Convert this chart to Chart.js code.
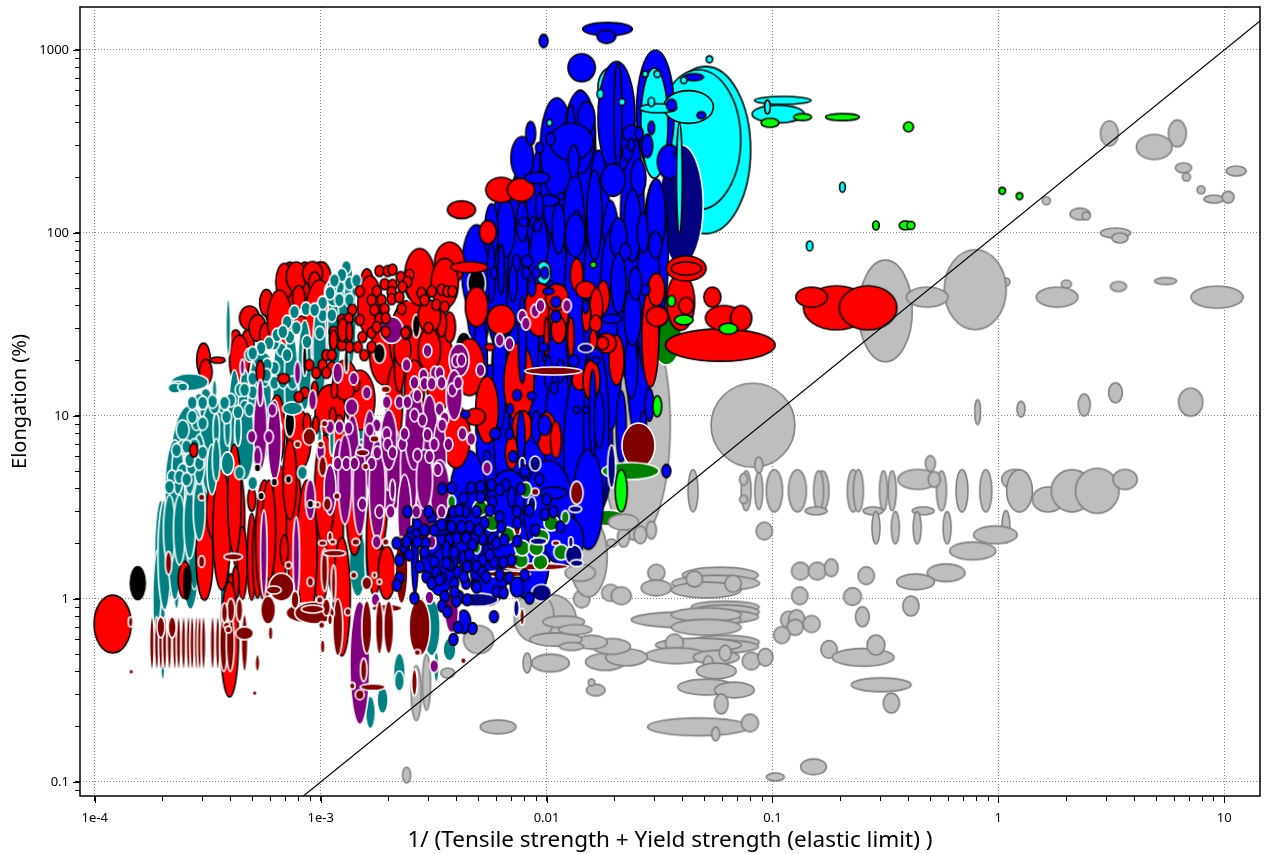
<!DOCTYPE html>
<html>
<head>
<meta charset="utf-8">
<title>Elongation chart</title>
<script src="https://cdn.jsdelivr.net/npm/chart.js@4"></script>
<style>
html, body { margin: 0; padding: 0; background: #fff; }
canvas { display: block; }
</style>
</head>
<body>
<canvas id="chart" width="1265" height="854"></canvas>
<script>
// every mark: [x, y, x spread, y spread], spread = high value / low value of the range
const xTickLabels = ['1e-4', '1e-3', '0.01', '0.1', '1', '10'];
const yTickLabels = ['0.1', '1', '10', '100', '1000'];
const limitLine = [[0.00083, 0.083], [15, 1500]];

const grayMarks = [
[3.1,350,1.2,1.37],[6.2,350,1.2,1.4],[4.9,295,1.44,1.37],[6.6,227,1.18,1.134],[6.8,202,1.085,1.106],[11.3,218,1.226,1.134],[7.9,172,1.085,1.106],[9,153,1.226,1.106],[10.4,157,1.13,1.16],[1.63,150,1.085,1.106],[2.3,127,1.226,1.16],[2.45,124,1.085,1.106],[3.3,100,1.36,1.134],[3.45,94,1.18,1.134],[5.5,54.6,1.25,1.09],[3.4,51,1.18,1.134],[2,52.5,1.107,1.106],[1.82,44.6,1.53,1.286],[9.3,44.6,1.7,1.32],[1.08,54,1.085,1.106],[0.79,49,1.88,2.74],[0.316,37.5,1.73,3.6],[0.484,44.6,1.53,1.286],[0.082,8.9,2.35,2.88],[0.0247,8.9,2.04,18],
[0.81,10.5,1.06,1.37],[1.26,10.9,1.085,1.22],[2.4,11.5,1.13,1.32],[3.3,13.4,1.15,1.286],[7.1,11.9,1.28,1.42],
[0.0445,3.9,1.107,1.7],[0.0765,3.9,1.107,1.65],[0.087,3.9,1.085,1.6],[0.102,3.9,1.18,1.7],[0.129,3.9,1.2,1.7],[0.166,3.9,1.15,1.65],[0.16,3.9,1.107,1.65],[0.228,3.9,1.13,1.7],[0.24,3.9,1.107,1.7],[0.31,3.9,1.085,1.65],[0.339,3.9,1.085,1.65],[0.56,3.9,1.107,1.65],[0.69,3.9,1.13,1.7],[0.88,3.9,1.13,1.7],
[0.44,4.5,1.5,1.286],[1.18,4.5,1.3,1.286],[1.24,3.9,1.3,1.7],[1.66,3.5,1.38,1.37],[2.12,3.9,1.53,1.7],[2.74,3.9,1.56,1.76],[3.64,4.5,1.28,1.286],[0.5,5.5,1.107,1.22],[0.52,4.5,1.13,1.22],[0.087,5.4,1.085,1.22],[0.0745,4.5,1.085,1.16],[0.0745,3.5,1.085,1.106],
[0.092,2.35,1.18,1.25],[0.156,3.03,1.25,1.106],[0.279,3.03,1.226,1.106],[0.465,3.03,1.25,1.106],[0.287,2.45,1.085,1.5],[0.35,2.45,1.085,1.5],[0.437,2.45,1.085,1.5],[0.593,2.45,1.085,1.5],[1.08,2.48,1.085,1.5],[0.97,2.24,1.56,1.25],[0.77,1.83,1.6,1.25],[0.587,1.39,1.47,1.25],[0.43,1.24,1.47,1.22],[0.26,1.34,1.18,1.25],[0.133,1.42,1.2,1.25],[0.158,1.42,1.2,1.25],[0.182,1.48,1.15,1.25],[0.226,1.03,1.2,1.25],[0.41,0.915,1.18,1.286],[0.25,0.8,1.15,1.286],
[0.0306,1.39,1.19,1.24],[0.0306,1.15,1.36,1.22],[0.0192,1.08,1.2,1.24],[0.0214,1.04,1.226,1.25],[0.0587,1.35,2.17,1.22],[0.056,1.22,2.45,1.22],[0.0509,1.12,2.04,1.22],[0.0451,1.286,1.18,1.22],[0.0669,1.21,1.18,1.24],[0.0143,1,1.18,1.25],
[0.0618,0.904,2,1.16],[0.0618,0.85,2,1.19],[0.056,0.8,2.4,1.19],[0.0415,0.77,3.06,1.22],[0.0509,0.82,2.04,1.19],[0.0509,0.7,2.04,1.22],[0.0618,0.58,2,1.19],[0.056,0.55,2.4,1.19],[0.047,0.56,2.4,1.19],[0.0368,0.575,1.2,1.25],[0.0375,0.49,1.88,1.22],[0.0564,0.48,1.6,1.19],[0.0618,0.507,1.13,1.22],[0.052,0.44,1.107,1.24],[0.0564,0.404,1.5,1.22],[0.0805,0.458,1.2,1.25],[0.093,0.48,1.165,1.25],[0.0509,0.33,1.79,1.22],[0.0678,0.318,1.5,1.22],[0.0593,0.267,1.15,1.286],[0.047,0.2,2.82,1.25],[0.0795,0.21,1.19,1.25],[0.056,0.183,1.085,1.19],[0.0061,0.2,1.44,1.19],
[0.118,0.77,1.18,1.24],[0.128,0.77,1.18,1.286],[0.126,0.7,1.18,1.22],[0.11,0.635,1.18,1.24],[0.149,0.73,1.19,1.24],[0.132,1.04,1.18,1.25],[0.178,0.53,1.18,1.25],[0.252,0.48,1.88,1.25],[0.287,0.56,1.2,1.286],[0.303,0.34,1.84,1.19],[0.336,0.27,1.18,1.286],[0.103,0.1065,1.2,1.106],[0.152,0.121,1.3,1.22],[0.0024,0.109,1.085,1.22],
[0.0105,0.77,1.66,1.88],[0.0088,0.8,1.5,1.88],[0.0104,0.447,1.47,1.25],[0.0082,0.447,1.085,1.286],[0.0182,0.453,1.5,1.24],[0.0226,0.48,1.53,1.24],[0.0194,0.55,1.47,1.22],[0.0158,0.58,1.38,1.19],[0.011,0.6,1.7,1.18],[0.0129,0.55,1.28,1.106],[0.0119,0.75,1.53,1.16],[0.0134,0.68,1.4,1.134],[0.0165,0.318,1.21,1.16],[0.0158,0.35,1.07,1.09],[0.005,0.6,1.36,1.42],[0.00365,0.394,1.15,1.134],[0.00265,0.306,1.107,2],[0.00294,0.35,1.085,2.02],
[0.026,2.24,1.14,1.25],[0.0219,2.18,1.13,1.286],[0.0291,2.38,1.107,1.25],[0.0194,2.02,1.107,1.106],[0.0153,1.7,1.47,2.74],[0.0141,1.39,1.36,1.24]
];
const greenBack = [[0.0339,27.7,1.36,2.13],[0.0188,2.77,1.43,1.22]];
const grayTop = [[0.0219,2.63,1.36,1.22]];
const cyanBack = [[0.0506,284,2.5,8.2],[0.047,323,2.37,5.82],[0.0194,630,1.32,1.62]];
const blueHigh = [[0.0303,460,1.47,4.7]];
const cyanMid = [[0.03,399,1.32,4],[0.0425,488,1.66,1.51],[0.0312,480,1.46,1.12]];
const navyBack = [[0.0395,142,1.56,4.53]];
const redBack = [
[0.000303,20.2,1.15,1.53],[0.00031,17.4,1.14,1.37],[0.00042,25.4,1.13,1.35],[0.000475,25,1.14,1.4],[0.000484,34.3,1.226,1.35],[0.000525,30.3,1.19,1.4],[0.00057,27.7,1.13,1.35],[0.00061,38,1.165,1.42],[0.000575,41.5,1.15,1.4],[0.00073,52,1.18,1.78],[0.00085,52,1.18,1.78],[0.00099,52,1.18,1.78],[0.00069,54,1.19,1.59],[0.00078,57.5,1.226,1.46],[0.00101,56.5,1.21,1.51],[0.00092,60,1.226,1.35],[0.0008,44.6,1.14,1.34],[0.00094,53,1.13,1.34],[0.0016,55,1.13,1.34],[0.00035,20.2,1.165,1.08],
[0.00082,32,1.15,1.21],[0.000657,33.5,1.28,2.13],[0.00099,33.5,1.36,2.74],[0.00165,40,1.28,2.13],[0.000437,20.2,1.226,1.88],[0.00192,21.5,1.36,2.13],[0.00247,26,1.5,2.74],[0.00336,17.8,1.36,2.74],
[0.00012,0.73,1.46,2.07]
];
const tealBack = [
[0.000196,1.7,1.14,4.14],[0.00019,0.99,1.107,3.52],[0.00021,1.92,1.19,3.84],[0.000265,1.57,1.19,3.2],[0.0002,0.6,1.07,2.74],[0.00022,3.5,1.15,2.13],[0.00023,1,1.05,1.286],[0.000306,3.5,1.107,1.51],[0.0004,3.05,1.107,2.32],[0.00074,2.95,1.107,1.88],[0.000383,1.03,1.14,2.13],
[0.000204,1.74,1.15,4],[0.000226,2.7,1.18,7.48],[0.00025,3.25,1.18,6.6],[0.000276,3.5,1.2,9.63],[0.000306,5.1,1.18,5.82],[0.000339,6.2,1.15,4],[0.000375,6.2,1.15,4],[0.000415,7.9,1.15,5.13],[0.00046,9,1.15,4],[0.00051,10.8,1.15,3.52],[0.000564,13,1.15,3.1],[0.000657,14.8,1.15,3.1],[0.00074,15.7,1.15,3.52],[0.00085,19,1.15,3.1],[0.00099,23,1.15,3.52],[0.00115,30.6,1.15,3.75],[0.00134,35,1.15,3.75],[0.00128,43,1.15,2.41],[0.00156,9,1.13,3.1],
[0.000263,5.05,1.5,5.13],[0.000226,3.95,1.226,3.52],[0.000339,6.5,1.36,3.52],[0.00046,7.4,1.226,2.74],[0.000263,15.3,1.46,1.24],[0.000233,14.4,1.226,1.16],[0.000226,14.2,1.15,1.134],[0.000245,14.4,1.107,1.106],[0.00039,30.6,1.05,2.05],
[0.00112,2.7,1.19,1.59],[0.00146,1.57,1.19,2.32],[0.00165,1.65,1.107,2.05],[0.0031,0.7,1.19,2.05],[0.00372,0.53,1.14,1.34],[0.00223,0.394,1.13,1.65],[0.00223,0.356,1.107,1.286],[0.00188,0.28,1.12,1.4],[0.00166,0.24,1.107,1.51],[0.00325,0.425,1.06,1.46],[0.00146,0.72,1.107,1.16],[0.00255,49,1.19,1.34]
];
const redLower = [
[0.0011,10.8,1.36,1.88],[0.00149,12.2,1.36,2.13],[0.0008,7.4,1.28,2.13],[0.00128,15.7,1.28,1.65],
[0.000306,1.7,1.19,2.99],[0.00034,3.05,1.19,2.13],[0.000365,2.38,1.2,4.53],[0.00043,2.7,1.15,3.52],[0.00045,1.57,1.107,2.5],[0.000495,1.7,1.095,2.99],[0.000525,1.7,1.107,2.84],[0.000564,2.1,1.2,4.53],[0.000657,2.38,1.18,5.13],[0.000765,2.38,1.18,5.13],[0.001,2.1,1.2,5.13],[0.00115,2.38,1.2,5.13],[0.00173,2.1,1.18,4],[0.00042,1.22,1.07,1.51],[0.0004,1.16,1.06,1.4],[0.000395,0.6,1.2,4.25],[0.000495,3.5,1.085,1.34],[0.00069,1.85,1.085,1.46],[0.00085,1.92,1.12,1.72],[0.00085,2.95,1.07,1.4],[0.00087,1.85,1.226,5.82],[0.00124,1.03,1.19,4.43],[0.00196,1.39,1.19,1.95],[0.00025,1.27,1.14,1.59],[0.00059,2.38,1.15,3.52],[0.00073,4.5,1.15,2.74],[0.00104,3.95,1.226,4],[0.00141,3.05,1.18,3.1],[0.00182,3.5,1.18,3.52],[0.000415,3.5,1.15,4],[0.00064,8.4,1.18,2.41],[0.00121,7.4,1.13,1.88],[0.00212,11.5,1.18,2.74],[0.0026,13.9,1.226,2.13],[0.00223,18.5,1.107,1.88]
];
const blueBack = [
[0.0062,63,1.3,5.82],[0.0076,76,1.3,8.49],[0.0093,86,1.33,10.9],[0.0111,221,1.41,5.82],[0.0141,235,1.38,6.6],[0.0132,76,1.28,8.49],[0.017,86,1.28,10.9],[0.024,110,1.28,10.9],[0.0303,76,1.3,6.6],[0.0192,42.8,1.28,12.4],[0.0084,33.5,1.36,7.48],[0.0107,29.5,1.36,9.63],[0.0153,29.5,1.36,9.63],[0.0065,14.8,1.3,8.49],[0.008,10.1,1.36,8.49],[0.0102,7.9,1.36,6.6],[0.0132,8.4,1.36,9.63],[0.017,6.9,1.33,5.13],[0.005,43,1.28,3.52],[0.0255,23,1.28,9.63],
[0.00336,2.1,1.5,4],[0.0056,1.63,1.5,3.1],[0.0084,1.63,1.5,2.74],[0.00303,2.7,1.44,2.41],
[0.0062,59,1.36,6.6],[0.0049,63,1.36,3.1],[0.0076,42.8,1.3,7.48],[0.0093,42.8,1.28,8.49],[0.0111,33.5,1.3,10.9],[0.0136,42.8,1.28,9.63],[0.0165,42.8,1.3,7.48],[0.0192,29.5,1.28,12.4],[0.023,42.8,1.28,7.48],[0.0282,42.8,1.28,6.6],
[0.0056,8.4,1.33,5.13],[0.0066,8.4,1.28,6.6],[0.0077,8.4,1.28,4.53],[0.0093,7.4,1.36,5.82],[0.0113,7.4,1.33,6.6],[0.0136,6.5,1.3,6.6],[0.0166,8.4,1.3,8.49],[0.0051,20.2,1.15,3.1],[0.0062,17.8,1.15,4.53],[0.0072,20.2,1.13,2.74],[0.0085,26,1.18,3.1],[0.0104,38,1.13,2.13],
[0.0045,3.05,1.5,4.53],[0.0068,2.7,1.66,3.52],[0.0102,3.05,1.66,3.52],[0.0153,3.5,1.36,3.52],[0.0119,2.1,1.5,1.88],[0.00261,1.92,1.07,3.2],[0.0043,0.75,1.15,1.34]
];
const blueUpper = [
[0.0111,292,1.4,3.52],[0.0141,355,1.36,2.84],[0.0078,257,1.26,1.72],[0.0204,425,1.46,4.14],[0.0207,440,1.085,3.84],[0.0197,195,1.28,1.51],[0.0237,350,1.19,1.24],[0.0257,350,1.085,1.18],[0.0228,274,1.107,1.21],[0.0237,303,1.07,1.18],[0.0255,200,1.165,1.59],[0.0128,390,1.085,1.65],[0.015,425,1.19,1.51],[0.0129,315,1.55,1.59],[0.0132,245,1.12,1.51],[0.0085,350,1.107,1.35],[0.0093,292,1.085,1.15],[0.0104,327,1.095,1.18],[0.0116,159,1.07,1.09],[0.0102,150,1.24,1.15],[0.0093,140,1.085,1.4],[0.0163,125,1.165,3.1],[0.0134,97,1.226,1.72],[0.0113,106,1.14,1.88],[0.0078,115,1.13,1.65],[0.0066,106,1.21,2.05],[0.0057,101,1.15,2.05],[0.024,110,1.19,2.5],[0.0268,100,1.13,1.65],[0.0208,94,1.19,1.65],[0.0306,125,1.21,2.5],[0.0303,86,1.14,1.4],[0.0223,79,1.12,1.24],[0.0079,115,1.107,1.12],[0.0087,115,1.07,1.134],[0.0091,109,1.085,1.16],
[0.035,245,1.28,1.53],[0.0279,299,1.12,1.34],[0.0379,274,1.07,1.09],[0.0291,375,1.07,1.18],[0.0357,500,1.107,1.16],[0.0447,710,1.226,1.09],[0.0484,440,1.095,1.09],
[0.0186,1300,1.66,1.18],[0.0184,1180,1.21,1.18],[0.0097,1120,1.095,1.18],[0.0143,800,1.32,1.42]
];
const cyanFront = [
[0.0387,200,1.06,4],[0.0405,685,1.07,1.09],[0.0526,890,1.07,1.09],[0.0273,740,1.06,1.08],[0.0309,740,1.07,1.09],[0.0291,520,1.07,1.12],[0.0216,520,1.07,1.09],[0.0173,575,1.07,1.12],[0.0103,400,1.06,1.09],
[0.111,530,1.78,1.106],[0.106,447,1.7,1.25],[0.095,488,1.06,1.19],[0.204,178,1.06,1.134],[0.146,85,1.07,1.134],[0.0097,60.5,1.165,1.34]
];
const redMid = [
[0.0063,172,1.37,1.37],[0.0077,172,1.32,1.34],[0.0055,101,1.19,1.34],[0.0042,134,1.33,1.25],
[0.00274,57.5,1.36,2.05],[0.00372,68,1.36,1.72],[0.00354,53,1.32,1.88],[0.00455,65,1.46,1.15],[0.0049,39.5,1.26,1.65],[0.0063,33.5,1.33,1.46],[0.0056,23.8,1.107,1.09],[0.00372,30.6,1.13,1.46],[0.00343,32,1.107,1.4],[0.00303,35,1.26,1.51],[0.00455,18.5,1.36,2.05],[0.00398,7.7,1.33,2.2],[0.00545,10.8,1.26,2.32],[0.00755,15.2,1.36,2.74],[0.00484,9.9,1.226,1.24],[0.0078,8.7,1.226,1.51],[0.007,6.3,1.14,1.51],[0.01,8,1.226,1.72],[0.011,7.4,1.12,1.59],[0.0093,38,1.36,1.95],[0.0113,36.5,1.226,1.59],[0.0111,44.6,1.26,1.4],[0.0023,23,1.19,1.51],[0.0024,28.5,1.107,1.18],[0.00303,23,1.26,1.72],
[0.0136,59,1.14,1.51],[0.0149,49,1.226,1.24],[0.0178,44.6,1.14,1.51],[0.0166,39.5,1.14,1.59],[0.015,35.5,1.095,1.51],[0.0165,32,1.13,1.24],[0.0204,48,1.15,1.134],[0.0214,41,1.165,1.22],[0.0235,43.5,1.13,1.21],[0.0204,20.2,1.165,1.88],[0.0184,25,1.226,1.286],[0.0177,25,1.13,1.18],[0.0161,26,1.085,1.286],[0.014,15.7,1.165,1.286],[0.0158,15.7,1.19,1.65],[0.0128,27,1.07,1.65],[0.0113,29.5,1.165,1.4],[0.01,27,1.05,1.65],[0.0288,27,1.19,3.52],
[0.0392,42,1.33,2.05],[0.0415,64,1.5,1.37],[0.0415,64,1.36,1.18],[0.0306,49,1.19,1.51],[0.0309,35,1.25,1.286],[0.0415,40,1.165,1.24],[0.0542,44.6,1.19,1.286],[0.0587,24.4,3.06,1.5],[0.061,34.3,1.46,1.37],[0.0727,34.3,1.24,1.37],[0.192,39,1.96,1.74],[0.265,39,1.8,1.74],[0.149,44.6,1.38,1.286]
];
const blackMarks = [[0.0043,23.8,1.19,1.46],[0.0049,53,1.2,1.45],[0.00182,22,1.13,1.286],[0.00265,31,1.085,1.34],[0.00085,20.2,1.05,1.51],[0.0013,20.2,1.05,1.4],[0.00073,9.1,1.107,1.4]];
const blackOutlined = [[0.000155,1.22,1.165,1.51],[0.000255,1.22,1.06,1.5]];
const tealDots = [
[0.000214,2.38,1.13,2.41],[0.000237,2.38,1.13,2.41],[0.000263,2.57,1.13,2.41],[0.00029,3.05,1.13,2.13],[0.000233,5.1,1.13,1.88],[0.000263,5.1,1.13,1.88],[0.00029,5.8,1.13,1.88],[0.00033,5.1,1.107,1.88],
[0.000484,21.5],[0.000624,18.3],[0.00055,20.2,1.19,1.24],[0.00067,23],[0.000624,25],[0.00073,27],[0.00064,27.7],[0.00071,32.6],[0.000765,37],[0.00086,38.5],[0.00102,35.5],[0.00115,47,1.226,1.4],[0.0013,60,1.14,1.286],[0.00134,53],[0.00121,50.6],[0.00112,50.6],[0.00099,28.4],[0.00087,25.4],[0.00071,21.5],[0.000624,15.2],[0.000564,15.7],[0.0005,13.5],[0.00044,13.9],[0.0004,12.2],[0.00037,11.2],[0.000339,11.2],[0.00031,13],[0.00029,12.2],[0.00027,11.8],[0.00075,11,1.226,1.18],[0.000339,13.9,1.05,1.286],
[0.000245,8.4,1.14,1.286],[0.000282,9.1],[0.000276,6.9],[0.000245,6.8],[0.000245,5.05],[0.000268,5.2],[0.00029,5.5],[0.00022,4.65],[0.0003,6.3],[0.000345,8.4,1.07,1.51],[0.000387,8.4,1.07,1.51],[0.00043,8.4,1.07,1.51],[0.000345,5.75,1.085,1.72],[0.000387,5.5,1.14,1.34],[0.000437,4.9],[0.000564,6.5],[0.000624,6.7],[0.00064,8.7],[0.0005,4.3],[0.00083,4.9],[0.00099,7.2,1.05,1.51],[0.00112,7.4,1.05,1.51],[0.0016,7.2,1.19,1.09],
[0.0013,65],[0.00124,59],[0.00115,55],[0.0011,47],[0.00121,43],[0.00134,43],[0.00144,55],[0.00102,41.5],[0.00094,38],[0.00112,35.5],[0.00078,30.3],[0.00068,28.8],[0.00059,25],[0.000545,23.5],[0.0005,22],[0.00058,19],[0.00068,15.4],[0.00075,15.2],[0.000575,16.7],[0.0005,16],[0.00046,13.9],[0.000375,11.8],[0.000332,12],[0.0003,11.8],[0.00027,9.9],[0.0003,9.1],[0.000383,9.9],[0.00043,10.5],[0.000484,10.8],[0.000255,6.8],[0.00023,6.5],[0.000263,5.75],[0.000237,4.65],[0.000214,4.1],[0.000255,4.5]
];
const purpleBack = [
[0.00212,5.1,1.18,2.74],[0.00247,5.1,1.2,3.52],[0.00303,7.4,1.2,3.1],[0.00336,5.8,1.15,2.74],[0.00206,29.5,1.26,1.4],[0.00149,0.447,1.226,4.7],[0.00138,6.5,1.15,2.41],[0.00165,6.5,1.15,2.74],[0.00121,5.1,1.15,2.13],[0.0011,3.95,1.13,1.88],[0.00054,8.4,1.15,2.74],[0.000624,7.4,1.15,2.74],[0.00056,1.78,1.07,2.99],[0.00078,1.7,1.07,2.74],[0.0009,3.5,1.107,1.65],[0.0041,20.2,1.226,1.51],[0.0038,0.84,1.15,1.65],[0.00192,3.5,1.226,1.286],
[0.00128,4.5,1.15,3.1],[0.00149,3.95,1.15,3.1],[0.00178,3.95,1.18,3.52],[0.002,7.4,1.18,2.13],[0.0026,8.4,1.226,2.74],[0.00288,3.05,1.18,3.1],[0.00235,2.9,1.15,2.74],[0.0039,13,1.18,1.88],[0.00336,3.95,1.226,2.13],[0.00288,4.5,1.18,2.13]
];
const purpleDots = [
[0.00297,22.7],[0.0024,19],[0.0051,17.8],[0.00398,20],[0.0042,20.2],[0.0062,26],[0.00685,24.8],[0.0078,35],[0.0081,32],[0.0089,37.5],[0.0094,40],[0.0123,40],[0.00285,16.7],[0.0032,17.2],[0.00336,17.2],[0.0026,15.2],[0.00288,15],[0.0031,15],[0.00343,15.2],[0.00383,13.9],[0.00406,15.2],[0.00196,11.9],[0.00223,11.9],[0.00242,11.9],[0.00268,12.9],[0.00336,10.9],[0.00354,9.7],[0.00345,8.9],[0.0026,10.1],[0.00282,9.5],[0.00297,7.9],[0.00424,8],[0.00464,7.5],[0.00368,7],[0.00318,7],[0.00268,6.1],[0.00303,6],[0.0033,5.1],[0.00177,8.9],[0.00196,8],[0.00198,7],[0.0023,7],[0.00235,8],[0.00208,6.3],[0.00178,6.3],[0.00545,5.2],
[0.00079,17.2,1.07,1.34],[0.00045,18.5,1.05,1.22],[0.00054,13.4,1.06,1.4],[0.00092,12.2,1.085,1.286],[0.00119,17.2,1.107,1.286],[0.0014,16],[0.00137,11.2,1.14,1.24],[0.0016,13.4],[0.00165,8.4],[0.00133,8.6],[0.00121,8.7],[0.0011,8.7],[0.001,6.5,1.085,1.286],[0.00119,5.5],[0.0013,5.5],[0.00141,5.5],[0.00168,5.5],[0.000495,7.7],[0.00059,7.7],[0.00061,10.8],[0.000525,6,1.085,1.286],
[0.00177,2.05],[0.0031,2.05],[0.00175,0.99],[0.00303,1.02],[0.00318,0.43],[0.00265,3],[0.00343,3],[0.00153,3.3],[0.00208,3.95,1.06,1.3],[0.00182,3],[0.00204,3]
];
const redDots = [
[0.00149,48],[0.00138,38],[0.00124,33.5],[0.00133,34],[0.00149,33.5],[0.00114,28.8],[0.00153,27],[0.00168,28.5],[0.00134,23.8],[0.00146,23.8],[0.00156,21.5],[0.00124,24.4],[0.00168,23.8],[0.00089,19],[0.000955,17.2],[0.00102,19],[0.00106,21.5],[0.00112,21.5],[0.00112,18.5],[0.00106,17.2],[0.00085,13.4],[0.0008,12.7],
[0.00182,62],[0.00198,62],[0.00208,63],[0.00226,57.5],[0.00247,59],[0.00242,54],[0.00192,52.5],[0.00208,52],[0.00177,48],[0.00206,47.5],[0.0023,50.7],[0.00168,43],[0.00186,43],[0.00206,43.5],[0.00223,44.6],[0.00173,38],[0.00192,38.5],[0.00228,38.5],[0.00182,34],[0.00194,34.3],[0.00177,30.6],[0.00194,28.8],[0.00237,28.5],[0.00279,47],[0.00288,43],[0.0031,48],[0.00343,49],[0.00364,48],[0.00325,40.5],[0.00354,39.5],[0.00383,48],[0.003,30.3],
[0.00114,26,1.085,1.286],[0.00125,29.5,1.107,1.34],[0.00134,28.8,1.07,1.286],[0.00094,13.9,1.07,1.24],[0.00115,13.9,1.07,1.24],[0.00144,14.8,1.07,1.18],[0.00113,10,1.07,1.24],[0.00087,9.1,1.085,1.286],[0.00095,8.9,1.07,1.25],[0.000685,16,1.13,1.134],[0.00054,17.4,1.085,1.34],[0.000274,6.5,1.085,1.19]
];
const blueFront = [
[0.0091,200,1.29,1.16],[0.0057,60.5,1.085,2.13],[0.0063,63,1.07,1.88],[0.00735,68.5,1.085,1.24],[0.0082,70,1.12,1.16],[0.0081,60.5,1.085,1.16],[0.009,60.5,1.085,1.16],[0.0098,60.5,1.085,1.16],[0.00585,60.5,1.07,1.16],[0.0071,53,1.085,1.59],[0.0078,26,1.085,2.99],[0.0086,50,1.085,1.24],[0.0102,48,1.12,1.09],[0.011,42,1.107,1.15],[0.011,35,1.107,1.16],[0.0097,23.8,1.095,1.12],[0.0099,20.5,1.07,1.09],[0.0132,20,1.12,1.16],[0.0115,17.6,1.085,1.34],[0.0102,17.2,1.085,1.51],[0.0108,14.2,1.085,1.16],[0.0136,10.8,1.07,1.09],[0.0149,10.8,1.07,1.09],[0.0086,12.9,1.095,1.106],[0.0074,13,1.095,1.15],[0.0069,10.9,1.07,1.15],[0.00593,8,1.12,1.16],[0.00685,8,1.085,1.15],[0.00437,10.2,1.095,1.106],[0.0077,7.7,1.085,1.88],[0.009,8.7,1.107,1.51],[0.0098,8.9,1.14,1.286],[0.0071,6,1.095,1.16],[0.00545,6,1.07,1.16],
[0.0273,49,1.107,1.15],[0.0237,18.5,1.14,2.2],[0.024,35,1.19,2.05],[0.0208,53,1.165,2.13],[0.0247,53,1.14,1.51],[0.0285,11.5,1.095,1.51],[0.0268,9.2,1.07,1.34],[0.0194,34,1.226,1.12],[0.0149,39.5,1.07,1.18],[0.0166,20.2,1.085,1.09],[0.016,10.4,1.07,2.99],[0.0171,9.5,1.107,2.05],[0.0339,5,1.095,1.18],[0.0214,8.7,1.107,2.5],[0.0107,3.8,1.32,1.16]
];
const blueDots = [
[0.00242,3],[0.00268,2.54],[0.00252,2.32],[0.00265,2.24],[0.00288,2.38],[0.00247,2.15],[0.00235,1.9],[0.00217,2.02],[0.00291,2.02],[0.00318,2.38],[0.0031,2.81],[0.003,3],[0.00387,3],[0.00437,3],[0.0049,3],[0.0043,3.56],[0.00345,4],[0.0038,4.05],[0.00464,4.05],[0.0051,4.1],[0.0057,4.2],[0.0066,4.2],[0.0077,4],[0.007,3.6,1.085,1.286],[0.0051,3.6],[0.00575,3.4],[0.0062,2.81],[0.0053,2.6],[0.0063,2.48],[0.0074,3],[0.0074,2.6],[0.0074,2.07],[0.01,3.5],[0.0107,3],[0.0115,2.48],[0.00575,2.13],[0.006,2.02],[0.0052,2.13],[0.0048,2.13],[0.00455,2.48],[0.0042,2.48],[0.0038,2.48],[0.00343,2.54],[0.00345,2.1],[0.00372,2.1],[0.004,2.15],[0.0044,2.15],[0.0047,1.97],[0.0036,1.8,1.085,1.34],[0.0039,1.8],[0.0043,1.7],[0.0052,1.63],[0.00585,1.59],[0.00645,1.59],[0.00274,1.5],[0.00318,1.59],[0.00294,1.32],[0.00325,1.4],[0.00345,1.3],[0.00372,1.53],[0.00405,1.4],[0.00445,1.5],[0.0049,1.5],[0.0052,1.4],[0.00223,1.3],[0.00217,1.19],[0.0039,1.22],[0.0044,1.22],[0.00484,1.19],[0.00685,1.3],[0.006,1.1],[0.00645,1.08],[0.0074,1.16,1.15,1.286],[0.0084,1.01],[0.0026,1.01],[0.00354,1.03],[0.0041,1.03],[0.00445,0.99],[0.00398,0.975],[0.00345,0.915],[0.00364,0.85],[0.00585,0.8],[0.00405,0.7],[0.0047,0.69],[0.00387,0.6],[0.0024,2.05],[0.00268,2.05],[0.0036,1.57],[0.0043,1.32],[0.0049,1.16],[0.0054,1.32],[0.0031,1.22],
[0.00223,1.63],[0.00247,1.74],[0.00288,1.8],[0.00336,1.27],[0.0039,1.09],[0.00455,1.74],[0.005,2.38],[0.0056,1.74],[0.0062,1.35],[0.007,1.63],[0.008,1.35],[0.0089,2.38],[0.0098,2.9],[0.0041,3.05],[0.0065,2.1],[0.0056,3.05],[0.0084,3.05],[0.008,5],[0.0062,3.95],[0.0093,4.5]
];
const maroonMarks = [
[0.0089,1.5,1.96,1.09],[0.0066,1.37,1.66,1.08],[0.011,2.02,1.085,1.065],[0.0074,2.38,1.07,1.134],[0.0089,3.85,1.085,1.1],[0.0136,3.8,1.14,1.34],[0.00274,0.7,1.24,2.05],[0.00228,1.44,1.14,2.32],[0.00196,0.89,1.36,1.106],[0.0016,1.22,1.107,1.18],[0.00173,1.35,1.05,1.07],[0.00182,1.24,1.05,1.07],[0.0016,0.7,1.107,1.95],[0.00182,0.7,1.085,1.95],[0.002,0.7,1.107,1.95],[0.00155,0.41,1.07,1.34],[0.0017,0.33,1.29,1.09],[0.00138,0.335,1.06,1.09],[0.00149,0.3,1.095,1.134],[0.00119,0.7,1.107,2.05],[0.00132,0.85,1.07,1.1],[0.00114,1.22,1.05,1.59],[0.00104,1.44,1.07,1.72],[0.00115,1.78,1.26,1.08],[0.0011,2.18,1.05,1.134],[0.00102,2.02,1.085,1.07],[0.00113,2.05,1.07,1.065],[0.0014,1.35,1.07,1.09],[0.00143,2.05,1.085,1.09],[0.00086,0.84,1.5,1.286],[0.00094,0.84,1.5,1.32],[0.00106,0.9,1.085,1.24],[0.00092,0.88,1.26,1.106],[0.00101,0.72,1.065,1.09],[0.00102,0.55,1.05,1.18],[0.0011,0.77,1.05,1.134],[0.00099,0.99,1.07,1.09],[0.00092,3.3,1.06,1.07],[0.00097,3.27,1.05,1.07],[0.00107,3.3,1.085,1.18],[0.00118,3.65,1.07,1.09],[0.00194,2.05,1.07,1.09],[0.0026,0.35,1.06,1.4],[0.00268,0.51,1.07,1.08],[0.00428,0.46,1.06,1.08],[0.0078,0.8,1.05,1.24],
[0.000144,0.75,1.05,1.134],[0.000145,0.4,1.05,1.065],[0.000212,1.57,1.07,1.34],[0.000297,1.6,1.07,1.16],[0.000297,3.6,1.07,1.09],
[0.000179,0.575,1.05,1.95],[0.000188,0.575,1.05,1.95],[0.000196,0.575,1.05,1.95],[0.000204,0.575,1.05,1.95],[0.000214,0.575,1.05,1.95],[0.000226,0.575,1.05,1.95],[0.000235,0.575,1.05,1.95],[0.000247,0.575,1.05,1.95],[0.00026,0.575,1.05,1.95],[0.00027,0.575,1.05,1.95],[0.000282,0.575,1.05,1.95],[0.000291,0.575,1.05,1.95],[0.000303,0.575,1.05,1.95],[0.000332,0.575,1.05,1.95],[0.00035,0.575,1.05,1.95],[0.000196,0.7,1.085,1.3],[0.00022,0.7,1.085,1.3],
[0.000372,0.575,1.085,2.05],[0.000398,0.575,1.085,2.05],[0.00046,0.575,1.07,2.05],[0.00046,0.65,1.2,1.18],[0.000383,0.72,1.07,1.09],[0.00039,0.68,1.07,1.09],[0.0004,0.87,1.085,1.34],[0.000437,0.87,1.07,1.34],[0.000375,0.84,1.065,1.286],[0.000525,0.447,1.05,1.24],[0.00051,0.306,1.05,1.065],[0.000585,0.87,1.165,1.42],[0.0006,0.65,1.05,1.18],[0.00067,1.16,1.29,1.42],[0.00062,1.12,1.165,1.106],[0.00077,0.99,1.085,1.25],[0.00041,1.7,1.21,1.09],[0.00072,1.53,1.07,1.09],[0.0009,1.24,1.07,1.12],
[0.00194,14,1.1,1.09],[0.00173,7.5,1.1,1.09],[0.00079,7,1.07,1.09],[0.001,7,1.07,1.09],[0.00102,5.3,1.085,1.286],[0.00089,7.7,1.14,1.24],[0.00104,9.1,1.07,1.09],[0.00153,6.3,1.14,1.09],[0.00158,5.3,1.07,1.09],
[0.0107,17.6,1.79,1.106],[0.0255,6.9,1.4,1.76]
];
const blackDots = [[0.000525,5.2],[0.000624,4.35],[0.00072,4.5],[0.000545,3.65],[0.0009,3.3]];
const greenMarks = [
[0.0077,1.63],[0.0094,1.59],[0.0116,1.8],[0.0095,2.18],[0.0078,1.9],[0.009,1.9],[0.0067,2.24],[0.0105,2.6],[0.0121,2.8,1.085,1.18],[0.0051,3.15],[0.0081,3.95,1.12,1.22],[0.0038,3.4,1.085,1.18],[0.0049,1.92,1.085,1.18],[0.00575,2.6],[0.0235,5,1.79,1.24]
];
const navyMarks = [
[0.0095,1.08,1.226,1.24],[0.0132,1.74,1.19,1.286],[0.0136,1.57,1.14,1.09],[0.0086,3.3,1.085,1.21],[0.0092,2.07,1.19,1.09],[0.0049,0.99,1.55,1.18],[0.00735,0.89,1.06,1.24],[0.0134,3.1,1.14,1.09],[0.0128,2.05,1.05,1.14],[0.0194,5.3,1.085,1.72],[0.0089,5.5,1.12,1.21],[0.0078,5.5,1.06,1.16],[0.0149,23.5,1.165,1.12]
];
const limeMarks = [
[0.0214,3.9,1.13,1.7],[0.0638,30,1.21,1.15],[0.0405,33.5,1.21,1.134],[0.0357,42.5,1.085,1.15],[0.0309,11.3,1.095,1.3],[0.0161,67,1.07,1.08],
[0.0975,400,1.2,1.12],[0.136,430,1.2,1.09],[0.204,430,1.41,1.09],[0.4,380,1.107,1.134],[0.287,110,1.07,1.12],[0.387,110,1.13,1.12],[0.41,110,1.085,1.106],[1.04,170,1.07,1.09],[1.24,159,1.07,1.09]
];

// bottom layer first
const layers = [
  { data: grayMarks, fill: '#bebebe', stroke: '#808080' },
  { data: greenBack, fill: '#008000', stroke: '#ffffff' },
  { data: grayTop, fill: '#bebebe', stroke: '#808080' },
  { data: cyanBack, fill: '#00ffff', stroke: '#000000' },
  { data: blueHigh, fill: '#0000ff', stroke: '#000000' },
  { data: cyanMid, fill: '#00ffff', stroke: '#000000' },
  { data: navyBack, fill: '#000080', stroke: '#ffffff' },
  { data: redBack, fill: '#ff0000', stroke: '#000000' },
  { data: tealBack, fill: '#008080', stroke: '#ffffff' },
  { data: redLower, fill: '#ff0000', stroke: '#000000' },
  { data: blueBack, fill: '#0000ff', stroke: '#000000' },
  { data: blueUpper, fill: '#0000ff', stroke: '#000000' },
  { data: cyanFront, fill: '#00ffff', stroke: '#000000' },
  { data: blackMarks, fill: '#000000', stroke: '#ffffff' },
  { data: redMid, fill: '#ff0000', stroke: '#000000' },
  { data: tealDots, fill: '#008080', stroke: '#ffffff', sx: 1.107, sy: 1.19 },
  { data: purpleBack, fill: '#800080', stroke: '#ffffff' },
  { data: redDots, fill: '#ff0000', stroke: '#000000', sx: 1.095, sy: 1.15 },
  { data: blackOutlined, fill: '#000000', stroke: '#000000' },
  { data: blueFront, fill: '#0000ff', stroke: '#000000' },
  { data: purpleDots, fill: '#800080', stroke: '#ffffff', sx: 1.095, sy: 1.18 },
  { data: maroonMarks, fill: '#800000', stroke: '#ffffff' },
  { data: blackDots, fill: '#000000', stroke: '#ffffff', sx: 1.07, sy: 1.106 },
  { data: greenMarks, fill: '#008000', stroke: '#ffffff', sx: 1.165, sy: 1.22 },
  { data: navyMarks, fill: '#000080', stroke: '#ffffff' },
  { data: blueDots, fill: '#0000ff', stroke: '#000000', sx: 1.095, sy: 1.16 },
  { data: limeMarks, fill: '#00ff00', stroke: '#000000' }
];

const images = new WeakMap();

// the ellipse covers the low..high range of the point on both log axes
function ellipseImage(ctx, layer) {
  const p = ctx.raw;
  if (!p) return 'circle';
  const xs = ctx.chart.scales.x, ys = ctx.chart.scales.y;
  const w = Math.abs(xs.getPixelForValue(p.x * Math.sqrt(p.sx)) - xs.getPixelForValue(p.x / Math.sqrt(p.sx)));
  const h = Math.abs(ys.getPixelForValue(p.y * Math.sqrt(p.sy)) - ys.getPixelForValue(p.y / Math.sqrt(p.sy)));
  if (!(w > 0) || !(h > 0) || !isFinite(w) || !isFinite(h)) return 'circle'; // scales not laid out yet
  const key = w.toFixed(2) + 'x' + h.toFixed(2);
  const old = images.get(p);
  if (old && old.key === key) return old.img;
  const lw = 1.6;
  const c = document.createElement('canvas');
  c.width = Math.ceil(w + lw * 2 + 2);
  c.height = Math.ceil(h + lw * 2 + 2);
  const g = c.getContext('2d');
  g.beginPath();
  g.ellipse(c.width / 2, c.height / 2, w / 2, h / 2, 0, 0, Math.PI * 2);
  g.fillStyle = layer.fill;
  g.fill();
  g.lineWidth = lw;
  g.strokeStyle = layer.stroke;
  g.stroke();
  images.set(p, { key, img: c });
  return c;
}

const datasets = layers.map((layer, i) => ({
  type: 'scatter',
  data: layer.data.map(m => ({ x: m[0], y: m[1], sx: m[2] || layer.sx, sy: m[3] || layer.sy })),
  order: layers.length - i,
  showLine: false,
  pointRadius: 2,
  pointStyle: ctx => ellipseImage(ctx, layer)
}));

datasets.push({
  type: 'scatter',
  data: limitLine.map(m => ({ x: m[0], y: m[1] })),
  order: 0,
  showLine: true,
  borderColor: '#000000',
  borderWidth: 1.2,
  pointRadius: 0
});

function decade(v) {
  const d = Math.log10(v);
  return Math.abs(d - Math.round(d)) < 1e-6 ? Math.round(d) : null;
}

// log ticks on whole mantissas only
function keepWholeTicks(scale) {
  scale.ticks = scale.ticks.filter(t => {
    const m = t.value / Math.pow(10, Math.floor(Math.log10(t.value) + 1e-9));
    return Math.abs(m - Math.round(m)) < 1e-6;
  });
}

const frame = {
  id: 'frame',
  afterDraw(chart) {
    const a = chart.chartArea, g = chart.ctx;
    g.save();
    g.strokeStyle = '#000000';
    g.lineWidth = 1.5;
    g.strokeRect(a.left, a.top, a.right - a.left, a.bottom - a.top);
    // major ticks are a little longer than the minor ones
    g.lineWidth = 1;
    g.beginPath();
    chart.scales.x.ticks.forEach(t => {
      if (decade(t.value) === null) return;
      const px = Math.round(chart.scales.x.getPixelForValue(t.value)) + 0.5;
      g.moveTo(px, a.bottom);
      g.lineTo(px, a.bottom + 7);
    });
    chart.scales.y.ticks.forEach(t => {
      if (decade(t.value) === null) return;
      const py = Math.round(chart.scales.y.getPixelForValue(t.value)) + 0.5;
      g.moveTo(a.left, py);
      g.lineTo(a.left - 7, py);
    });
    g.stroke();
    g.restore();
  }
};

const tickFont = { family: 'Noto Sans', size: 13 };
const gridStyle = {
  color: c => decade(c.tick.value) === null ? 'rgba(0,0,0,0)' : '#808080',
  tickColor: '#000000',
  tickLength: 5
};
const borderStyle = { display: false, dash: [1, 2] };

new Chart(document.getElementById('chart'), {
  data: { datasets },
  plugins: [frame],
  options: {
    responsive: false,
    animation: false,
    events: [],
    layout: { padding: { top: 7, right: -1 } },
    plugins: { legend: { display: false }, tooltip: { enabled: false } },
    scales: {
      x: {
        type: 'logarithmic',
        min: 0.000086,
        max: 14.4,
        grid: gridStyle,
        border: borderStyle,
        title: { display: true, text: '1/ (Tensile strength + Yield strength (elastic limit) )', font: { family: 'Noto Sans', size: 22.5 }, color: '#000000', padding: { top: 0, bottom: 0 } },
        ticks: {
          autoSkip: false, maxRotation: 0, font: tickFont, color: '#000000', padding: 9,
          callback: v => { const d = decade(v); return d === null ? '' : xTickLabels[d + 4]; }
        },
        afterBuildTicks: keepWholeTicks,
        afterFit: s => { s.height = 58; s.paddingLeft = 0; s.paddingRight = 0; }
      },
      y: {
        type: 'logarithmic',
        min: 0.0838,
        max: 1717,
        grid: gridStyle,
        border: borderStyle,
        title: { display: true, text: 'Elongation (%)', font: { family: 'Noto Sans', size: 20 }, color: '#000000', padding: { top: 8, bottom: 0 } },
        ticks: {
          autoSkip: false, font: tickFont, color: '#000000', padding: 6,
          callback: v => { const d = decade(v); return d === null ? '' : yTickLabels[d + 1]; }
        },
        afterBuildTicks: keepWholeTicks,
        afterFit: s => { s.width = 80; s.paddingTop = 0; s.paddingBottom = 0; }
      }
    }
  }
});
</script>
</body>
</html>
